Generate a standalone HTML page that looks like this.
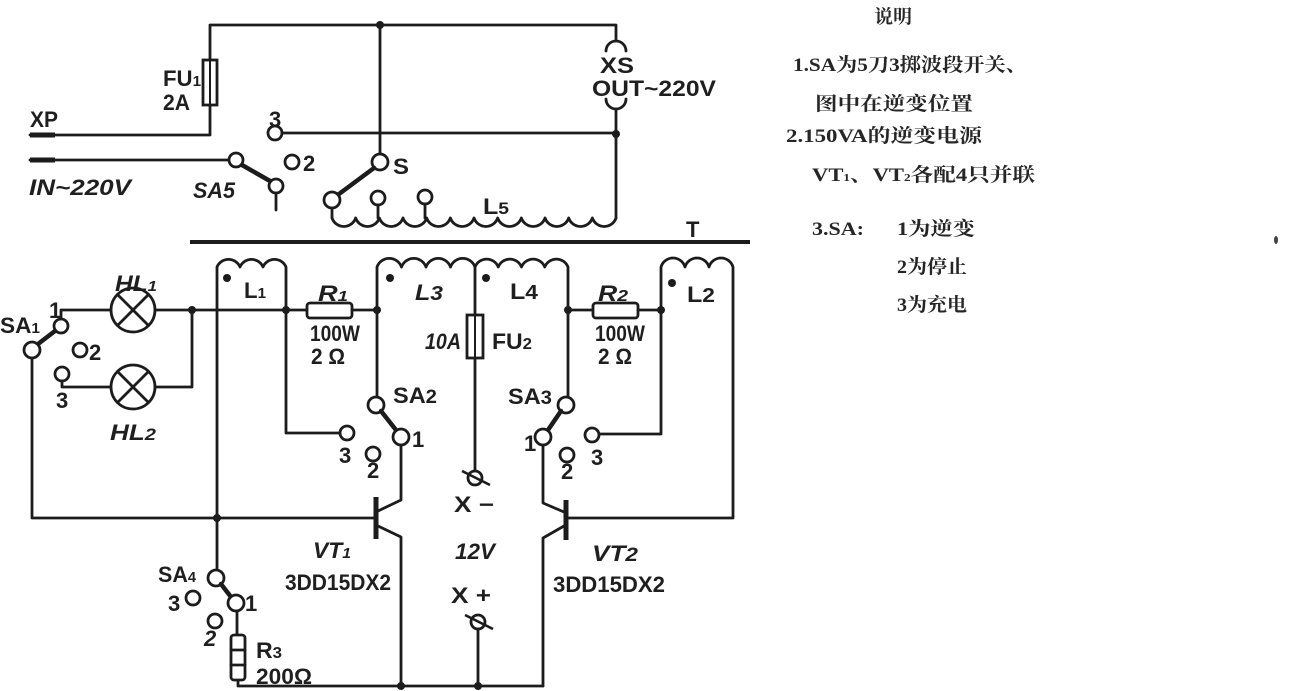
<!DOCTYPE html>
<html><head><meta charset="utf-8">
<style>
html,body{margin:0;padding:0;background:#fff;}
svg{display:block;}
.w{fill:none;stroke:#1c1c1c;stroke-width:2.8;stroke-linecap:round;stroke-linejoin:round;}
.c{fill:#fff;stroke:#1c1c1c;stroke-width:2.8;}
.lv{stroke:#1c1c1c;stroke-width:4.5;stroke-linecap:round;}
.d{fill:#1c1c1c;}
.t{font-family:"Liberation Sans",sans-serif;font-weight:bold;fill:#1f1f1f;font-size:22px;}
.n{font-family:"Liberation Serif","Noto Serif CJK SC",serif;font-weight:bold;fill:#262626;font-size:19px;}
</style></head>
<body>
<svg width="1291" height="691" viewBox="0 0 1291 691" xmlns="http://www.w3.org/2000/svg">
<rect width="1291" height="691" fill="#fff"/>

<!-- ===== TOP SECTION ===== -->
<path class="w" d="M210,60 V25 H616 V40"/>
<rect x="203" y="60" width="14" height="45" class="c"/>
<line x1="210" y1="60" x2="210" y2="105" stroke="#1c1c1c" stroke-width="2"/>
<path class="w" d="M210,105 V135 H30"/>
<line x1="30" y1="135" x2="55" y2="135" stroke="#1c1c1c" stroke-width="5"/>
<circle class="d" cx="380" cy="25" r="4"/>
<path class="w" d="M380,25 V154"/>
<circle class="c" cx="275" cy="133" r="7"/>
<path class="w" d="M282,133 H616"/>
<circle class="d" cx="616" cy="134" r="4"/>
<!-- XS socket -->
<path class="w" d="M606,51 A10,10 0 0 1 626,51"/>
<path class="w" d="M606,99 A10,10 0 0 0 626,99"/>
<path class="w" d="M616,109 V218"/>
<!-- IN line and SA5 -->
<path class="w" d="M30,160 H229"/>
<line x1="30" y1="160" x2="55" y2="160" stroke="#1c1c1c" stroke-width="5"/>
<circle class="c" cx="236" cy="160" r="7"/>
<line class="lv" x1="242" y1="165" x2="270" y2="181"/>
<circle class="c" cx="276" cy="186" r="7"/>
<path class="w" d="M276,193 V210"/>
<circle class="c" cx="292" cy="162" r="7"/>
<!-- S switch -->
<circle class="c" cx="380" cy="162" r="8"/>
<line class="lv" x1="374" y1="168" x2="339" y2="194"/>
<circle class="c" cx="332" cy="200" r="8"/>
<circle class="c" cx="378" cy="198" r="7"/>
<path class="w" d="M378,205 V218"/>
<circle class="c" cx="425" cy="197" r="7"/>
<path class="w" d="M425,204 V218"/>
<!-- L5 winding -->
<path class="w" d="M332,208 V218 a12.5,12.5 0 0 0 23.67,0 a12.5,12.5 0 0 0 23.67,0 a12.5,12.5 0 0 0 23.67,0 a12.5,12.5 0 0 0 23.67,0 a12.5,12.5 0 0 0 23.67,0 a12.5,12.5 0 0 0 23.67,0 a12.5,12.5 0 0 0 23.67,0 a12.5,12.5 0 0 0 23.67,0 a12.5,12.5 0 0 0 23.67,0 a12.5,12.5 0 0 0 23.67,0 a12.5,12.5 0 0 0 23.67,0 a12.5,12.5 0 0 0 23.67,0"/>
<!-- core -->
<line x1="190" y1="242" x2="750" y2="242" stroke="#1c1c1c" stroke-width="4"/>

<!-- ===== LOWER SECTION ===== -->
<path class="w" d="M217,518 V267 a12.5,12.5 0 0 1 23,0 a12.5,12.5 0 0 1 23,0 a12.5,12.5 0 0 1 23,0 V310"/>
<circle class="d" cx="227" cy="278" r="4"/>
<path class="w" d="M61,319 V310 H111"/>
<circle class="c" cx="133" cy="310" r="22"/>
<path class="w" d="M117.5,294.5 L148.5,325.5 M148.5,294.5 L117.5,325.5"/>
<path class="w" d="M155,310 H307"/>
<rect x="307" y="303" width="45" height="15" rx="3" class="c"/>
<path class="w" d="M352,310 H377"/>
<circle class="d" cx="192" cy="310" r="4"/>
<circle class="d" cx="286" cy="310" r="4"/>
<circle class="d" cx="377" cy="310" r="4"/>
<circle class="c" cx="62" cy="374" r="7"/>
<path class="w" d="M62,381 V387 H111"/>
<circle class="c" cx="133" cy="387" r="22"/>
<path class="w" d="M117.5,371.5 L148.5,402.5 M148.5,371.5 L117.5,402.5"/>
<path class="w" d="M155,387 H192 V310"/>
<circle class="c" cx="61" cy="326" r="7"/>
<line class="lv" x1="38" y1="344" x2="55" y2="331"/>
<circle class="c" cx="32" cy="350" r="8"/>
<circle class="c" cx="80" cy="350" r="7"/>
<path class="w" d="M32,358 V518 H375"/>
<circle class="d" cx="217" cy="518" r="4"/>
<path class="w" d="M286,310 V433 H340"/>
<circle class="c" cx="347" cy="433" r="7"/>
<path class="w" d="M377,310 V397"/>
<circle class="c" cx="376" cy="405" r="8"/>
<line class="lv" x1="381" y1="411" x2="396" y2="430"/>
<circle class="c" cx="401" cy="437" r="8"/>
<circle class="c" cx="373" cy="454" r="7"/>
<path class="w" d="M401,445 V500 L378,511"/>
<line x1="376" y1="497" x2="376" y2="539" stroke="#1c1c1c" stroke-width="5"/>
<path class="w" d="M378,526 L401,537 V686"/>
<path class="w" d="M377,310 V267 a13,13 0 0 1 24.5,0 a13,13 0 0 1 24.5,0 a13,13 0 0 1 24.5,0 a13,13 0 0 1 24.5,0 a12.5,12.5 0 0 1 23.25,0 a12.5,12.5 0 0 1 23.25,0 a12.5,12.5 0 0 1 23.25,0 a12.5,12.5 0 0 1 23.25,0 V310"/>
<circle class="d" cx="390" cy="278" r="4"/>
<circle class="d" cx="486" cy="278" r="4"/>
<path class="w" d="M475,267 V315"/>
<rect x="467" y="315" width="16" height="43" class="c"/>
<line x1="475" y1="315" x2="475" y2="358" stroke="#1c1c1c" stroke-width="2"/>
<path class="w" d="M475,358 V471"/>
<circle class="c" cx="475" cy="478" r="7"/>
<line x1="462" y1="471" x2="490" y2="485" stroke="#1c1c1c" stroke-width="2.6"/>
<path class="w" d="M568,310 H593"/>
<rect x="593" y="303" width="45" height="15" rx="3" class="c"/>
<path class="w" d="M638,310 H661"/>
<circle class="d" cx="568" cy="310" r="4"/>
<circle class="d" cx="661" cy="310" r="4"/>
<path class="w" d="M568,310 V397"/>
<circle class="c" cx="566" cy="405" r="8"/>
<line class="lv" x1="561" y1="411" x2="548" y2="430"/>
<circle class="c" cx="543" cy="437" r="8"/>
<circle class="c" cx="567" cy="455" r="7"/>
<circle class="c" cx="592" cy="435" r="7"/>
<path class="w" d="M599,434 H661 V267 a12.5,12.5 0 0 1 24,0 a12.5,12.5 0 0 1 24,0 a12.5,12.5 0 0 1 24,0 V518 H566"/>
<circle class="d" cx="672" cy="283" r="4"/>
<line x1="566" y1="500" x2="566" y2="540" stroke="#1c1c1c" stroke-width="5"/>
<path class="w" d="M564,512 L543,503 V445"/>
<path class="w" d="M564,526 L543,538 V686"/>
<path class="w" d="M238,680 V686 H543"/>
<circle class="d" cx="401" cy="686" r="4"/>
<circle class="d" cx="478" cy="686" r="4"/>
<circle class="c" cx="478" cy="622" r="7"/>
<line x1="465" y1="615" x2="493" y2="629" stroke="#1c1c1c" stroke-width="2.6"/>
<path class="w" d="M478,629 V686"/>
<path class="w" d="M217,518 V570"/>
<circle class="c" cx="216" cy="578" r="8"/>
<line class="lv" x1="221" y1="584" x2="231" y2="597"/>
<circle class="c" cx="236" cy="603" r="8"/>
<path class="w" d="M237,611 V635"/>
<rect x="231" y="635" width="14" height="45" rx="3" class="c"/>
<path class="w" d="M231,650 H245 M231,665 H245"/>
<circle class="c" cx="193" cy="598" r="7"/>
<circle class="c" cx="215" cy="621" r="7"/>

<!-- ===== LABELS ===== -->
<text class="t" x="30" y="127" textLength="28" lengthAdjust="spacingAndGlyphs">XP</text>
<text class="t" x="163" y="86" textLength="38" lengthAdjust="spacingAndGlyphs">FU<tspan font-size="15">1</tspan></text>
<text class="t" x="163" y="110" textLength="27" lengthAdjust="spacingAndGlyphs">2A</text>
<text class="t" x="29" y="195" font-size="24" font-style="italic" textLength="102" lengthAdjust="spacingAndGlyphs">IN~220V</text>
<text class="t" x="193" y="198" font-size="24" font-style="italic" textLength="42" lengthAdjust="spacingAndGlyphs">SA5</text>
<text class="t" x="269" y="127" font-size="19">3</text>
<text class="t" x="303" y="171" font-size="22">2</text>
<text class="t" x="393" y="174" font-size="24" textLength="16" lengthAdjust="spacingAndGlyphs">S</text>
<text class="t" x="483" y="214" textLength="26" lengthAdjust="spacingAndGlyphs">L<tspan font-size="17">5</tspan></text>
<text class="t" x="686" y="237" font-size="22">T</text>
<text class="t" x="600" y="73" textLength="34" lengthAdjust="spacingAndGlyphs">XS</text>
<text class="t" x="592" y="96" textLength="124" lengthAdjust="spacingAndGlyphs">OUT~220V</text>

<text class="t" x="115" y="291" font-style="italic" textLength="42" lengthAdjust="spacingAndGlyphs">HL<tspan font-size="15">1</tspan></text>
<text class="t" x="110" y="440" font-style="italic" textLength="46" lengthAdjust="spacingAndGlyphs">HL<tspan font-size="17">2</tspan></text>
<text class="t" x="0" y="333" textLength="40" lengthAdjust="spacingAndGlyphs">SA<tspan font-size="15">1</tspan></text>
<text class="t" x="49" y="318" font-size="17">1</text>
<text class="t" x="89" y="360" font-size="21">2</text>
<text class="t" x="56" y="408" font-size="21">3</text>
<text class="t" x="244" y="298" textLength="22" lengthAdjust="spacingAndGlyphs">L<tspan font-size="15">1</tspan></text>
<text class="t" x="318" y="301" font-style="italic" textLength="30" lengthAdjust="spacingAndGlyphs">R<tspan font-size="15">1</tspan></text>
<text class="t" x="310" y="341" font-size="18" textLength="50" lengthAdjust="spacingAndGlyphs">100W</text>
<text class="t" x="311" y="364" font-size="21" textLength="34" lengthAdjust="spacingAndGlyphs">2 Ω</text>
<text class="t" x="415" y="300" font-style="italic" textLength="28" lengthAdjust="spacingAndGlyphs">L<tspan font-size="20">3</tspan></text>
<text class="t" x="510" y="299" textLength="28" lengthAdjust="spacingAndGlyphs">L<tspan font-size="20">4</tspan></text>
<text class="t" x="598" y="301" font-style="italic" textLength="30" lengthAdjust="spacingAndGlyphs">R<tspan font-size="16">2</tspan></text>
<text class="t" x="595" y="341" font-size="18" textLength="50" lengthAdjust="spacingAndGlyphs">100W</text>
<text class="t" x="598" y="364" font-size="21" textLength="34" lengthAdjust="spacingAndGlyphs">2 Ω</text>
<text class="t" x="687" y="302" textLength="28" lengthAdjust="spacingAndGlyphs">L<tspan font-size="20">2</tspan></text>
<text class="t" x="425" y="349" font-style="italic" textLength="36" lengthAdjust="spacingAndGlyphs">10A</text>
<text class="t" x="492" y="349" textLength="40" lengthAdjust="spacingAndGlyphs">FU<tspan font-size="16">2</tspan></text>
<text class="t" x="393" y="403" textLength="44" lengthAdjust="spacingAndGlyphs">SA<tspan font-size="19">2</tspan></text>
<text class="t" x="508" y="404" textLength="44" lengthAdjust="spacingAndGlyphs">SA<tspan font-size="19">3</tspan></text>
<text class="t" x="339" y="463" font-size="20">3</text>
<text class="t" x="412" y="447" font-size="17">1</text>
<text class="t" x="367" y="478" font-size="19">2</text>
<text class="t" x="524" y="451" font-size="17">1</text>
<text class="t" x="561" y="479" font-size="19">2</text>
<text class="t" x="591" y="465" font-size="20">3</text>
<text class="t" x="454" y="512" textLength="40" lengthAdjust="spacingAndGlyphs">X −</text>
<text class="t" x="455" y="559" font-style="italic" textLength="40" lengthAdjust="spacingAndGlyphs">12V</text>
<text class="t" x="451" y="603" textLength="40" lengthAdjust="spacingAndGlyphs">X +</text>
<text class="t" x="313" y="558" font-style="italic" textLength="38" lengthAdjust="spacingAndGlyphs">VT<tspan font-size="15">1</tspan></text>
<text class="t" x="285" y="590" textLength="106" lengthAdjust="spacingAndGlyphs">3DD15DX2</text>
<text class="t" x="592" y="561" font-style="italic" textLength="46" lengthAdjust="spacingAndGlyphs">VT<tspan font-size="19">2</tspan></text>
<text class="t" x="553" y="592" textLength="112" lengthAdjust="spacingAndGlyphs">3DD15DX2</text>
<text class="t" x="158" y="582" textLength="38" lengthAdjust="spacingAndGlyphs">SA<tspan font-size="15">4</tspan></text>
<text class="t" x="168" y="611" font-size="19">3</text>
<text class="t" x="245" y="611" font-size="17">1</text>
<text class="t" x="204" y="646" font-size="19" font-style="italic">2</text>
<text class="t" x="256" y="658" textLength="26" lengthAdjust="spacingAndGlyphs">R<tspan font-size="16">3</tspan></text>
<text class="t" x="256" y="684" font-size="19" textLength="56" lengthAdjust="spacingAndGlyphs">200Ω</text>

<!-- ===== NOTES ===== -->
<text class="n" x="874" y="23" font-size="19" textLength="38" lengthAdjust="spacingAndGlyphs">说明</text>
<text class="n" x="793" y="71" textLength="234" lengthAdjust="spacingAndGlyphs">1.SA为5刀3掷波段开关、</text>
<text class="n" x="815" y="110" textLength="158" lengthAdjust="spacingAndGlyphs">图中在逆变位置</text>
<text class="n" x="786" y="142" textLength="196" lengthAdjust="spacingAndGlyphs">2.150VA的逆变电源</text>
<text class="n" x="812" y="181" textLength="223" lengthAdjust="spacingAndGlyphs">VT<tspan font-size="11">1</tspan>、VT<tspan font-size="11">2</tspan>各配4只并联</text>
<text class="n" x="812" y="235" textLength="52" lengthAdjust="spacingAndGlyphs">3.SA:</text>
<text class="n" x="897" y="235" textLength="78" lengthAdjust="spacingAndGlyphs">1为逆变</text>
<text class="n" x="897" y="273" textLength="70" lengthAdjust="spacingAndGlyphs">2为停止</text>
<text class="n" x="897" y="311" textLength="70" lengthAdjust="spacingAndGlyphs">3为充电</text>
<ellipse cx="1276" cy="240" rx="2" ry="4" fill="#444"/>
</svg>
</body></html>
